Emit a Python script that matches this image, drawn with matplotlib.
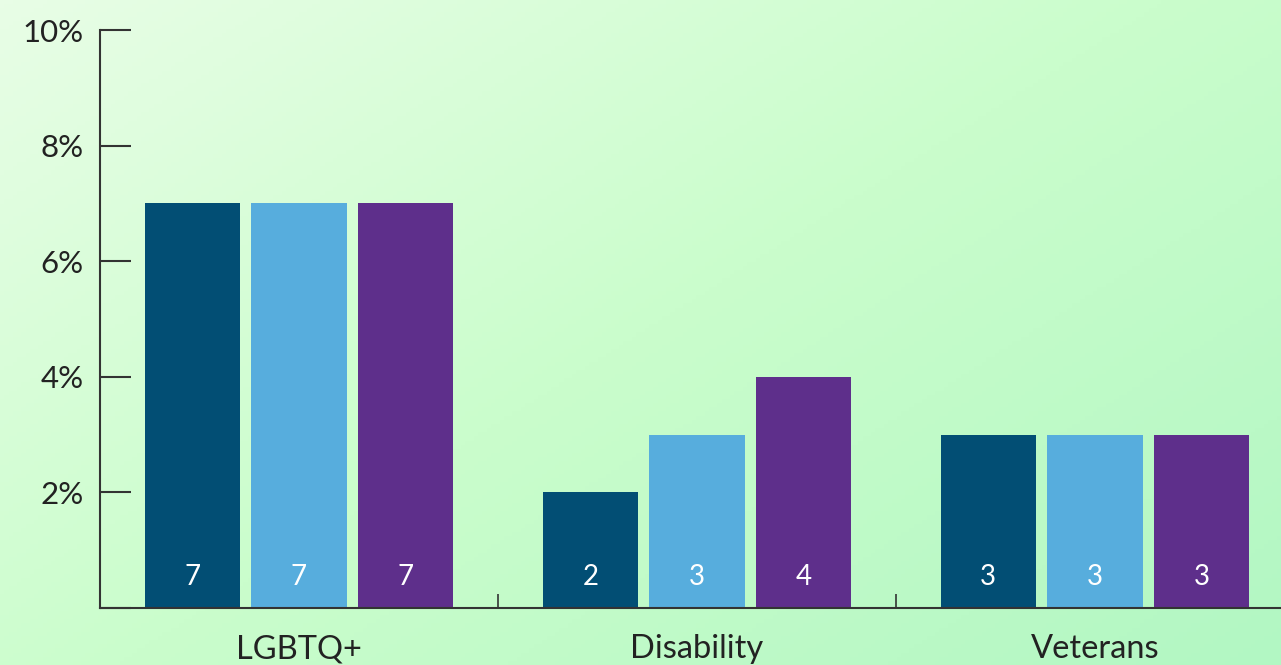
import numpy as np
import matplotlib
matplotlib.use("Agg")
import matplotlib.pyplot as plt
from matplotlib.colors import LinearSegmentedColormap

# Data
categories = ["LGBTQ+", "Disability", "Veterans"]
series_a = [7, 2, 3]
series_b = [7, 3, 3]
series_c = [7, 4, 3]
yticks = [0, 2, 4, 6, 8, 10]
ytick_labels = ["", "2%", "4%", "6%", "8%", "10%"]

colors = ["#024e74", "#57addd", "#5e2f8b"]
line_col = "#333333"

plt.rcParams["font.family"] = ["Lato", "DejaVu Sans"]

fig = plt.figure(figsize=(12.81, 6.65), dpi=100)

# diagonal gradient background
bg = fig.add_axes([0, 0, 1, 1], zorder=0)
xx, yy = np.meshgrid(np.linspace(0, 1, 300), np.linspace(0, 1, 160))
grad = 0.55 * xx + 0.45 * yy
cmap = LinearSegmentedColormap.from_list("bg", ["#e8fde6", "#cafdcc", "#b2f7c3"])
bg.imshow(grad, cmap=cmap, aspect="auto", extent=[0, 1, 0, 1], origin="upper")
bg.axis("off")

W, H = 1281, 665
left, bottom, top = 100, 608, 30
ax = fig.add_axes([left / W, (H - bottom) / H, (W - left) / W, (bottom - top) / H], zorder=1)
ax.patch.set_alpha(0)

x = np.arange(len(categories))
width = 0.24
offset = 0.268
for i, (vals, c) in enumerate(zip([series_a, series_b, series_c], colors)):
    pos = x + (i - 1) * offset
    ax.bar(pos, vals, width=width, color=c, zorder=2)
    for p, v in zip(pos, vals):
        ax.text(p, 0.53, str(v), ha="center", va="center", color="white", fontsize=20, zorder=3)

ax.set_xlim(-0.5, -0.5 + (W - left) / 398)
ax.set_ylim(0, 10)

ax.set_yticks(yticks)
ax.set_yticklabels(ytick_labels)
ax.set_xticks([0.5, 1.5])
ax.set_xticklabels([])
ax.set_xticks(x, minor=True)
ax.set_xticklabels(categories, minor=True)

for s in ["top", "right"]:
    ax.spines[s].set_visible(False)
for s in ["left", "bottom"]:
    ax.spines[s].set_color(line_col)
    ax.spines[s].set_linewidth(1.5)

ax.tick_params(axis="y", direction="in", length=22, width=1.5, color=line_col,
               labelsize=22.5, labelcolor="#222222", pad=12)
ax.tick_params(axis="x", which="major", direction="in", length=10, width=1.2, color=line_col)
ax.tick_params(axis="x", which="minor", length=0, labelsize=23.5, labelcolor="#222222", pad=19)

fig.savefig("out.png", dpi=100)
